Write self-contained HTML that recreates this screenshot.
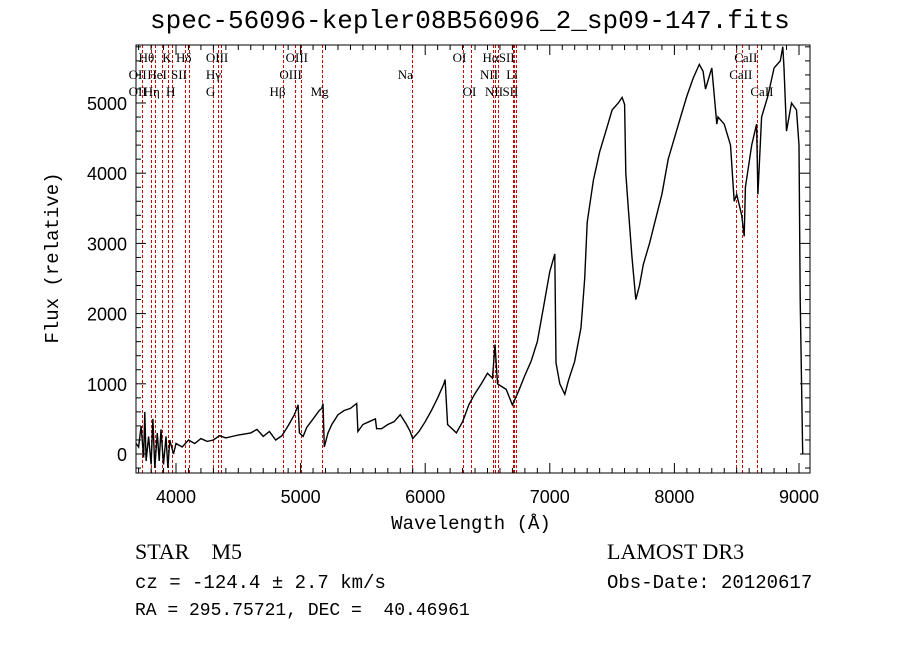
<!DOCTYPE html>
<html><head><meta charset="utf-8"><style>
html,body{margin:0;padding:0;background:#fff;}
#wrap{position:relative;width:900px;height:649px;overflow:hidden;background:#fff;}
.t{position:absolute;white-space:pre;color:#000;}
</style></head><body>
<div id="wrap">
<div class="t" style="left:150px;top:6px;font:26px 'Liberation Mono',monospace">spec-56096-kepler08B56096_2_sp09-147.fits</div>
<div class="t" style="left:135px;top:539px;font:22px 'Liberation Serif',serif">STAR    M5</div>
<div class="t" style="left:607px;top:539px;font:22px 'Liberation Serif',serif">LAMOST DR3</div>
<div class="t" style="left:135px;top:572px;font:19px 'Liberation Mono',monospace">cz = -124.4 ± 2.7 km/s</div>
<div class="t" style="left:607px;top:572px;font:19px 'Liberation Mono',monospace">Obs-Date: 20120617</div>
<div class="t" style="left:135px;top:601px;font:18px 'Liberation Mono',monospace">RA = 295.75721, DEC =  40.46961</div>
<svg id="chart" width="900" height="649" style="position:absolute;left:0;top:0"></svg>
</div>
<script>
const wavelengths=[3680,3700,3720,3740,3750,3760,3780,3800,3815,3830,3850,3865,3880,3900,3920,3935,3950,3980,4000,4050,4100,4150,4200,4250,4300,4350,4400,4500,4600,4650,4700,4750,4800,4850,4900,4950,4980,4990,5020,5050,5100,5150,5170,5180,5190,5220,5250,5300,5350,5400,5450,5460,5500,5550,5600,5610,5650,5700,5750,5800,5850,5880,5900,5950,6000,6050,6100,6150,6160,6180,6250,6300,6350,6400,6450,6500,6540,6560,6580,6650,6700,6750,6800,6850,6900,6950,7000,7040,7050,7080,7120,7150,7200,7250,7280,7300,7350,7400,7450,7500,7550,7580,7600,7610,7630,7660,7690,7720,7750,7800,7850,7900,7950,8000,8050,8100,8150,8200,8230,8250,8300,8340,8350,8400,8450,8480,8500,8540,8560,8570,8620,8660,8670,8700,8750,8800,8850,8870,8880,8900,8940,8980,9000,9010,9030];
const fluxes=[150,100,400,-50,600,-100,250,-150,500,-200,300,-100,350,-150,250,-200,200,0,150,100,200,150,220,180,200,260,230,270,300,350,250,320,200,260,400,560,700,300,250,380,500,620,650,720,100,300,420,560,620,650,720,320,420,460,500,360,360,420,460,560,420,320,220,320,460,620,800,1000,1060,420,300,460,700,860,1000,1150,1080,1560,1000,920,700,900,1120,1320,1600,2100,2600,2850,1300,1000,850,1050,1320,1800,2500,3300,3900,4300,4600,4900,5000,5080,4980,4000,3500,2800,2200,2400,2700,3000,3350,3700,4200,4500,4800,5100,5350,5550,5450,5200,5500,4700,4800,4700,4400,3600,3700,3400,3100,3800,4400,4700,3700,4800,5100,5500,5600,5800,5500,4600,5000,4900,4400,2200,0];
const xTicks=[4000,5000,6000,7000,8000,9000];
const yTicks=[0,1000,2000,3000,4000,5000];
const lineWaves=[3727,3798,3835,3889,3934,3969,4072,4102,4300,4340,4363,4861,4959,5007,5175,5894,6300,6364,6548,6563,6583,6707,6716,6731,8498,8542,8662];
const labelTexts=["Hθ","K","Hδ","OIII","OIII","OI","HαSII","OII","HeI","SII","Hγ","OIII","Na","NII","Li","CaII","OII","Hη","H","G","Hβ","Mg","OI","NII","SII","CaII","CaII"];
const labelWaves=[3700,3890,4000,4240,4880,6220,6460,3620,3770,3960,4240,4830,5780,6440,6650,8440,3620,3740,3920,4240,4750,5080,6300,6480,6620,8610,8480];
const labelRows=[0,0,0,0,0,0,0,1,1,1,1,1,1,1,1,1,2,2,2,2,2,2,2,2,2,2,0];

const L=136,R=810,T=45,B=473;
const xs=w=>176+(w-4000)*0.1246;
const ys=f=>454-f*0.0702;
const NS='http://www.w3.org/2000/svg';
const svg=document.getElementById('chart');
function mk(tag,attrs){const e=document.createElementNS(NS,tag);for(const k in attrs)e.setAttribute(k,attrs[k]);svg.appendChild(e);return e;}

lineWaves.forEach(w=>{
  const e=mk('line',{x1:Math.round(xs(w))+0.5,x2:Math.round(xs(w))+0.5,y1:T,y2:B,stroke:'#cc0000','stroke-width':1,'stroke-dasharray':'3,2','shape-rendering':'crispEdges'});
  
  
});
labelTexts.forEach((t,i)=>{
  const e=mk('text',{x:xs(labelWaves[i]),y:62+labelRows[i]*17,'font-family':'Liberation Serif, serif','font-size':13});
  e.textContent=t;
  
  
});
let d='';
wavelengths.forEach((w,i)=>{const x=Math.max(L,Math.min(R,xs(w)));const y=Math.max(T,Math.min(B,ys(fluxes[i])));d+=(i?'L':'M')+x.toFixed(1)+','+y.toFixed(1);});
const p=mk('path',{d:d,fill:'none',stroke:'#000','stroke-width':1.4});


const fr=mk('rect',{x:L,y:T,width:R-L,height:B-T,fill:'none',stroke:'#000','stroke-width':1});


for(let w=3700;w<=9000;w+=100){
  const x=xs(w);const big=w%1000===0;const len=big?10:5;
  mk('line',{x1:x,x2:x,y1:B,y2:B-len,stroke:'#000'});
  mk('line',{x1:x,x2:x,y1:T,y2:T+len,stroke:'#000'});
}
xTicks.forEach(w=>{
  const e=mk('text',{x:xs(w),y:503,'text-anchor':'middle','font-family':'Liberation Sans, sans-serif','font-size':18});
  e.textContent=w;
  
  
});
for(let f=-200;f<=5800;f+=200){
  const y=ys(f);if(y<T||y>B)continue;const big=f%1000===0;const len=big?10:5;
  mk('line',{x1:L,x2:L+len,y1:y,y2:y,stroke:'#000'});
  mk('line',{x1:R,x2:R-len,y1:y,y2:y,stroke:'#000'});
}
yTicks.forEach(f=>{
  const e=mk('text',{x:127,y:ys(f)+7,'text-anchor':'end','font-family':'Liberation Sans, sans-serif','font-size':18});
  e.textContent=f;
  
  
});
const xt=mk('text',{x:471,y:529,'text-anchor':'middle','font-family':'Liberation Mono, monospace','font-size':19});
xt.textContent='Wavelength (Å)';


const yt=mk('text',{x:58,y:258,'text-anchor':'middle','font-family':'Liberation Mono, monospace','font-size':19,transform:'rotate(-90 58 258)'});
yt.textContent='Flux (relative)';


</script>
</body></html>
